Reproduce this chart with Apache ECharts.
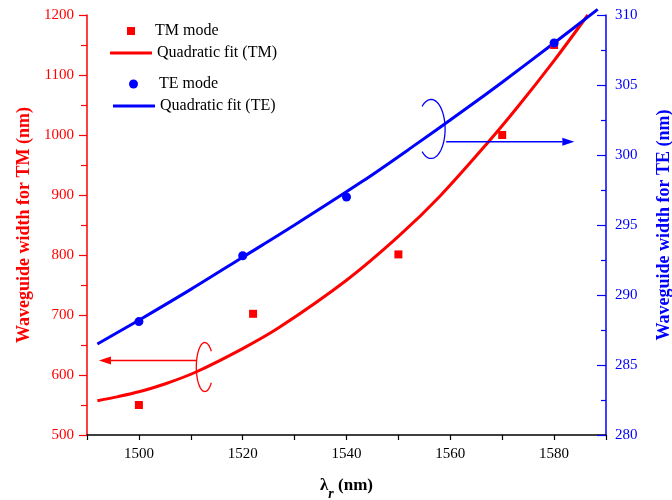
<!DOCTYPE html>
<html>
<head>
<meta charset="utf-8">
<script src="https://cdn.jsdelivr.net/npm/echarts@6/dist/echarts.min.js"></script>
<style>
html,body{margin:0;padding:0;background:#fff;}
#c{width:672px;height:500px;}
</style>
</head>
<body>
<div id="c"></div>
<script>
// ---- data ----
const tmX = [1500, 1522, 1550, 1570, 1580];
const tmY = [550, 702, 801, 1000, 1150];
const teX = [1500, 1520, 1540, 1580];
const teY = [288.1, 292.8, 297.0, 308.0];

const tmFitX = [1492, 1496, 1500, 1505, 1511, 1520, 1527, 1540, 1550, 1558, 1567, 1573, 1580, 1586.5];
const tmFitY = [557, 564, 572, 585, 605, 644, 679, 758, 831, 898, 985, 1047, 1124, 1200];
const teFitX = [1492, 1500, 1510, 1520, 1530, 1543, 1552, 1563, 1570, 1580, 1588.4];
const teFitY = [286.5, 288.2, 290.4, 292.7, 295.0, 298.1, 300.4, 303.3, 305.2, 308.0, 310.4];

const seriesNames = ['TM mode', 'Quadratic fit (TM)', 'TE mode', 'Quadratic fit (TE)'];
const yLeftName = 'Waveguide width for TM (nm)';
const yRightName = 'Waveguide width for TE (nm)';

// annotation anchors (data coordinates)
const redArrow = {from: [1511.2, 624], to: [1492.3, 624]};
const redEllipse = [1512.7, 613.3];
const blueArrow = {from: [1559.2, 300.95], to: [1583.9, 300.95]};
const blueEllipse = [1556.3, 301.86];

const RED = '#ff0000', BLUE = '#0000ff';
const FONT = 'Liberation Serif';

const zip = (a, b) => a.map((v, i) => [v, b[i]]);

const chart = echarts.init(document.getElementById('c'), null, {renderer: 'canvas'});

function legendAt(name, left, top, extra) {
  return Object.assign({
    data: [name], left: left, top: top, orient: 'horizontal', padding: 0,
    selectedMode: false,
    textStyle: {fontFamily: FONT, fontSize: 16, color: '#000'}
  }, extra);
}

const option = {
  animation: false,
  backgroundColor: '#fff',
  grid: {left: 87, right: 66, top: 15, bottom: 65, containLabel: false, outerBoundsMode: 'none'},
  legend: [
    legendAt(seriesNames[0], 127, 23, {icon: 'rect', itemWidth: 8, itemHeight: 8,
      textStyle: {fontFamily: FONT, fontSize: 16, color: '#000', padding: [0, 0, 0, 15]}}),
    legendAt(seriesNames[1], 110, 45, {icon: 'rect', itemWidth: 42, itemHeight: 3}),
    legendAt(seriesNames[2], 129, 76, {icon: 'circle', itemWidth: 9, itemHeight: 9,
      textStyle: {fontFamily: FONT, fontSize: 16, color: '#000', padding: [0, 0, 0, 16]}}),
    legendAt(seriesNames[3], 113, 98, {icon: 'rect', itemWidth: 42, itemHeight: 3})
  ],
  xAxis: {
    type: 'value', min: 1490, max: 1590, interval: 10,
    name: '{l|λ}{s|r}{l| (nm)}',
    nameLocation: 'middle', nameGap: 42,
    nameTextStyle: {
      rich: {
        l: {fontFamily: FONT, fontSize: 17, fontWeight: 'bold', color: '#000', lineHeight: 24, verticalAlign: 'top'},
        s: {fontFamily: FONT, fontSize: 14, fontWeight: 'bold', fontStyle: 'italic', color: '#000', lineHeight: 14, verticalAlign: 'bottom'}
      }
    },
    axisLine: {onZero: false, lineStyle: {color: '#000', width: 1.5}},
    axisTick: {length: 5, lineStyle: {color: '#000', width: 1.2}},
    axisLabel: {
      margin: 12, color: '#000', fontFamily: FONT, fontSize: 15,
      formatter: v => (v % 20 === 0 ? String(v) : '')
    },
    splitLine: {show: false}
  },
  yAxis: [
    {
      type: 'value', min: 500, max: 1200, interval: 100, position: 'left',
      name: yLeftName, nameLocation: 'middle', nameGap: 48, nameRotate: 90,
      nameTextStyle: {fontFamily: FONT, fontSize: 18, fontWeight: 'bold', color: RED},
      axisLine: {show: true, onZero: false, lineStyle: {color: RED, width: 1.5}},
      axisTick: {show: true, length: 8, lineStyle: {color: RED, width: 1.2}},
      minorTick: {show: true, splitNumber: 2, length: 6, lineStyle: {color: RED, width: 1.2}},
      axisLabel: {margin: 13, color: RED, fontFamily: FONT, fontSize: 15, formatter: v => String(v)},
      splitLine: {show: false}
    },
    {
      type: 'value', min: 280, max: 310, interval: 5, position: 'right',
      name: yRightName, nameLocation: 'middle', nameGap: 49, nameRotate: 90,
      nameTextStyle: {fontFamily: FONT, fontSize: 18, fontWeight: 'bold', color: BLUE},
      axisLine: {show: true, onZero: false, lineStyle: {color: BLUE, width: 1.5}},
      axisTick: {show: true, inside: true, length: 9, lineStyle: {color: BLUE, width: 1.2}},
      minorTick: {show: true, splitNumber: 2, length: 5, lineStyle: {color: BLUE, width: 1.2}},
      axisLabel: {margin: 9, color: BLUE, fontFamily: FONT, fontSize: 15, formatter: v => String(v)},
      splitLine: {show: false}
    }
  ],
  series: [
    {
      name: seriesNames[1], type: 'line', yAxisIndex: 0, data: zip(tmFitX, tmFitY),
      smooth: 0.3, symbol: 'none', clip: false, z: 2,
      lineStyle: {color: RED, width: 3}, itemStyle: {color: RED}
    },
    {
      name: seriesNames[3], type: 'line', yAxisIndex: 1, data: zip(teFitX, teFitY),
      smooth: 0.3, symbol: 'none', clip: false, z: 3,
      lineStyle: {color: BLUE, width: 3}, itemStyle: {color: BLUE}
    },
    {
      name: seriesNames[0], type: 'scatter', yAxisIndex: 0, data: zip(tmX, tmY),
      symbol: 'rect', symbolSize: 8, z: 4, itemStyle: {color: RED, opacity: 1}
    },
    {
      name: seriesNames[2], type: 'scatter', yAxisIndex: 1, data: zip(teX, teY),
      symbol: 'circle', symbolSize: 9, z: 5, itemStyle: {color: BLUE, opacity: 1}
    }
  ]
};
chart.setOption(option);

function ellipsePts(c, rx, ry, a0, a1) {
  const pts = [];
  const n = 60;
  for (let i = 0; i <= n; i++) {
    const a = (a0 + (a1 - a0) * i / n) * Math.PI / 180;
    pts.push([c[0] + rx * Math.cos(a), c[1] + ry * Math.sin(a)]);
  }
  return pts;
}

function arrow(from, to, color, yAxisIndex) {
  const p0 = chart.convertToPixel({xAxisIndex: 0, yAxisIndex: yAxisIndex}, from);
  const p1 = chart.convertToPixel({xAxisIndex: 0, yAxisIndex: yAxisIndex}, to);
  const dir = Math.sign(p1[0] - p0[0]);
  const headLen = 12, headW = 4;
  const base = p1[0] - dir * headLen;
  return [
    {type: 'line', shape: {x1: p0[0], y1: p0[1], x2: base, y2: p1[1]},
     style: {stroke: color, lineWidth: 1.5}, z: 10, silent: true},
    {type: 'polygon', shape: {points: [[p1[0], p1[1]], [base, p1[1] - headW], [base, p1[1] + headW]]},
     style: {fill: color}, z: 10, silent: true}
  ];
}

const rc = chart.convertToPixel({xAxisIndex: 0, yAxisIndex: 0}, redEllipse);
const bc = chart.convertToPixel({xAxisIndex: 0, yAxisIndex: 1}, blueEllipse);

chart.setOption({
  graphic: [
    ...arrow(redArrow.from, redArrow.to, RED, 0),
    ...arrow(blueArrow.from, blueArrow.to, BLUE, 1),
    {type: 'polyline', shape: {points: ellipsePts(rc, 8.5, 24.5, 40, 320)},
     style: {stroke: RED, lineWidth: 1.3, fill: null}, z: 10, silent: true},
    {type: 'polyline', shape: {points: ellipsePts(bc, 14, 29.5, -130, 130)},
     style: {stroke: BLUE, lineWidth: 1.3, fill: null}, z: 10, silent: true}
  ]
});
</script>
</body>
</html>
